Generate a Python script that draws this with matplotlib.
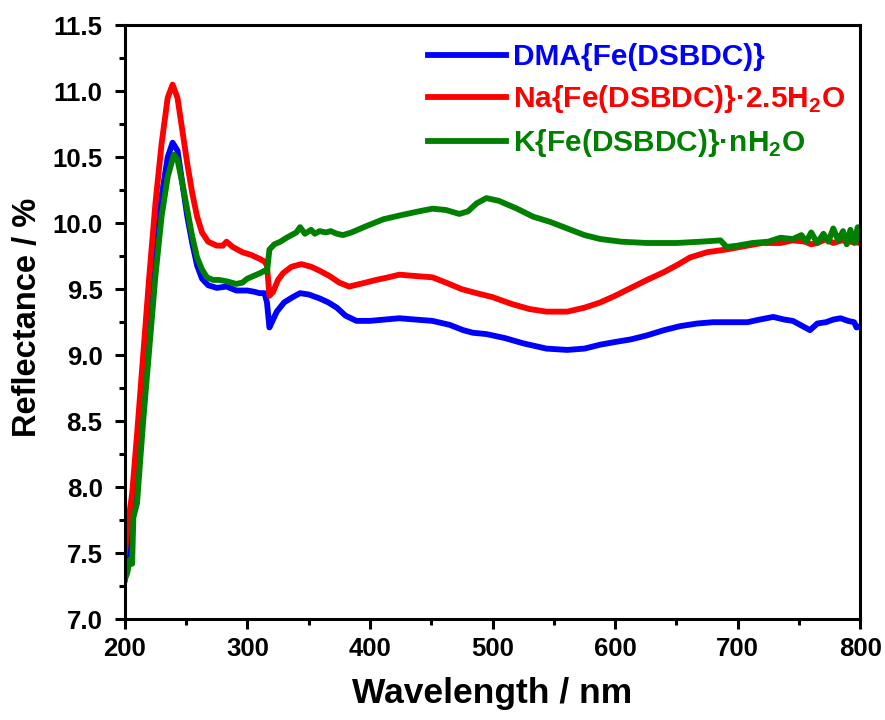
import matplotlib.pyplot as plt

plt.rcParams['font.family'] = ['Liberation Sans', 'DejaVu Sans']
plt.rcParams['font.weight'] = 'bold'
plt.rcParams['mathtext.fontset'] = 'custom'
plt.rcParams['mathtext.bf'] = 'Liberation Sans:bold'
plt.rcParams['mathtext.rm'] = 'Liberation Sans:bold'

# DMA{Fe(DSBDC)}
wl_dma = [200, 203, 206, 210, 215, 220, 225, 230, 235, 239, 243, 247, 251, 255, 259,
          263, 268, 275, 283, 291, 300, 306, 310, 314, 316, 318, 320, 324, 330, 337,
          343, 350, 359, 366, 373, 380, 389, 400, 412, 424, 437, 451, 465, 476, 484,
          495, 510, 525, 544, 561, 575, 588, 600, 613, 626, 640, 653, 667, 680, 694,
          708, 718, 729, 738, 745, 751, 755, 759, 765, 772, 778, 784, 790, 795, 797, 800]
r_dma = [7.30, 7.60, 7.85, 8.20, 8.75, 9.30, 9.80, 10.20, 10.50, 10.61, 10.55, 10.30, 10.05, 9.85, 9.68,
         9.58, 9.53, 9.51, 9.52, 9.49, 9.49, 9.48, 9.47, 9.47, 9.40, 9.21, 9.25, 9.33, 9.40, 9.44,
         9.47, 9.46, 9.43, 9.40, 9.36, 9.30, 9.26, 9.26, 9.27, 9.28, 9.27, 9.26, 9.23, 9.19, 9.17,
         9.16, 9.13, 9.09, 9.05, 9.04, 9.05, 9.08, 9.10, 9.12, 9.15, 9.19, 9.22, 9.24, 9.25, 9.25,
         9.25, 9.27, 9.29, 9.27, 9.26, 9.23, 9.21, 9.19, 9.24, 9.25, 9.27, 9.28, 9.26, 9.25, 9.21, 9.22]

# Na{Fe(DSBDC)}·2.5H2O
wl_na = [200, 203, 206, 210, 215, 220, 225, 230, 235, 239, 243, 247, 251, 255, 259,
         263, 268, 275, 280, 283, 288, 296, 303, 310, 314, 316, 318, 321, 325, 329,
         336, 344, 352, 359, 367, 375, 383, 392, 405, 415, 424, 437, 451, 462, 475,
         487, 500, 515, 530, 544, 561, 575, 588, 600, 613, 626, 640, 652, 661, 675,
         690, 708, 720, 735, 745, 755, 760, 765, 772, 778, 785, 792, 800]
r_na = [7.50, 7.75, 7.95, 8.40, 9.00, 9.60, 10.15, 10.60, 10.95, 11.05, 10.95, 10.70, 10.45, 10.23, 10.05,
        9.93, 9.86, 9.83, 9.83, 9.86, 9.82, 9.78, 9.76, 9.73, 9.71, 9.68, 9.45, 9.48, 9.57, 9.62,
        9.67, 9.69, 9.67, 9.64, 9.60, 9.55, 9.52, 9.54, 9.57, 9.59, 9.61, 9.60, 9.59, 9.55, 9.50,
        9.47, 9.44, 9.39, 9.35, 9.33, 9.33, 9.36, 9.40, 9.45, 9.51, 9.57, 9.63, 9.69, 9.74, 9.78,
        9.80, 9.83, 9.85, 9.85, 9.87, 9.86, 9.84, 9.85, 9.88, 9.85, 9.87, 9.86, 9.85]

# K{Fe(DSBDC)}·nH2O
wl_k = [200, 202, 204, 206, 207, 210, 215, 220, 225, 230, 235, 240, 243, 247, 251,
        255, 259, 263, 267, 272, 277, 283, 291, 296, 300, 305, 310, 314, 316, 318,
        322, 327, 332, 336, 340, 343, 347, 352, 355, 359, 364, 368, 373, 378, 385,
        395, 411, 425, 440, 451, 462, 473, 480, 487, 495, 505, 520, 533, 547, 561,
        575, 588, 605, 626, 650, 670, 686, 691, 700, 712, 725, 735, 745, 752, 756,
        760, 765, 770, 774, 778, 782, 786, 789, 792, 795, 798, 800]
r_k = [7.30, 7.35, 7.45, 7.42, 7.77, 7.88, 8.50, 9.05, 9.60, 10.05, 10.35, 10.52, 10.48, 10.30, 10.10,
       9.90, 9.74, 9.65, 9.59, 9.57, 9.57, 9.56, 9.54, 9.55, 9.58, 9.60, 9.62, 9.64, 9.63, 9.80,
       9.84, 9.86, 9.89, 9.91, 9.93, 9.97, 9.92, 9.95, 9.92, 9.94, 9.93, 9.94, 9.92, 9.91, 9.93,
       9.97, 10.03, 10.06, 10.09, 10.11, 10.10, 10.07, 10.09, 10.15, 10.19, 10.17, 10.11, 10.05, 10.01, 9.96,
       9.91, 9.88, 9.86, 9.85, 9.85, 9.86, 9.87, 9.82, 9.83, 9.85, 9.86, 9.89, 9.88, 9.91, 9.86,
       9.93, 9.85, 9.92, 9.86, 9.96, 9.87, 9.94, 9.84, 9.95, 9.85, 9.97, 9.88]

labels = ['DMA{Fe(DSBDC)}',
          r'Na{Fe(DSBDC)}·2.5H$_\mathbf{2}$O',
          r'K{Fe(DSBDC)}·nH$_\mathbf{2}$O']
colors = ['#0000ff', '#ff0000', '#008000']

fig = plt.figure(figsize=(8.85, 7.2), dpi=100)
ax = fig.add_axes([0.141, 0.140, 0.831, 0.825])

ax.plot(wl_dma, r_dma, color=colors[0], lw=4.2, label=labels[0])
ax.plot(wl_na, r_na, color=colors[1], lw=4.2, label=labels[1])
ax.plot(wl_k, r_k, color=colors[2], lw=4.2, label=labels[2])

ax.set_xlim(200, 800)
ax.set_ylim(7.0, 11.5)
ax.set_xticks([200, 300, 400, 500, 600, 700, 800])
ax.set_xticks(range(250, 800, 100), minor=True)
ax.set_yticks([7.0, 7.5, 8.0, 8.5, 9.0, 9.5, 10.0, 10.5, 11.0, 11.5])
ax.set_yticks([7.25 + 0.5 * i for i in range(9)], minor=True)
ax.set_yticklabels(['%.1f' % v for v in ax.get_yticks()])

for s in ax.spines.values():
    s.set_linewidth(2.2)
ax.tick_params(which='major', direction='out', length=7, width=2.2, labelsize=18.5)
ax.tick_params(axis='y', which='major', pad=9)
ax.tick_params(axis='x', which='major', pad=6)
ax.tick_params(which='minor', direction='out', length=4, width=2.2)
for lab in ax.get_xticklabels() + ax.get_yticklabels():
    lab.set_fontweight('bold')

ax.set_xlabel('Wavelength / nm', fontsize=25.5, fontweight='bold')
ax.set_ylabel('Reflectance / %', fontsize=23.5, fontweight='bold')
ax.xaxis.set_label_coords(0.5, -0.098)
ax.yaxis.set_label_coords(-0.111, 0.508)

ax.legend(loc='upper left', bbox_to_anchor=(0.376, 1.015), frameon=False,
          handlelength=2.6, handletextpad=0.24, labelspacing=0.4,
          labelcolor='linecolor', prop={'weight': 'bold', 'size': 21.5})

fig.savefig('out.png', dpi=100)
